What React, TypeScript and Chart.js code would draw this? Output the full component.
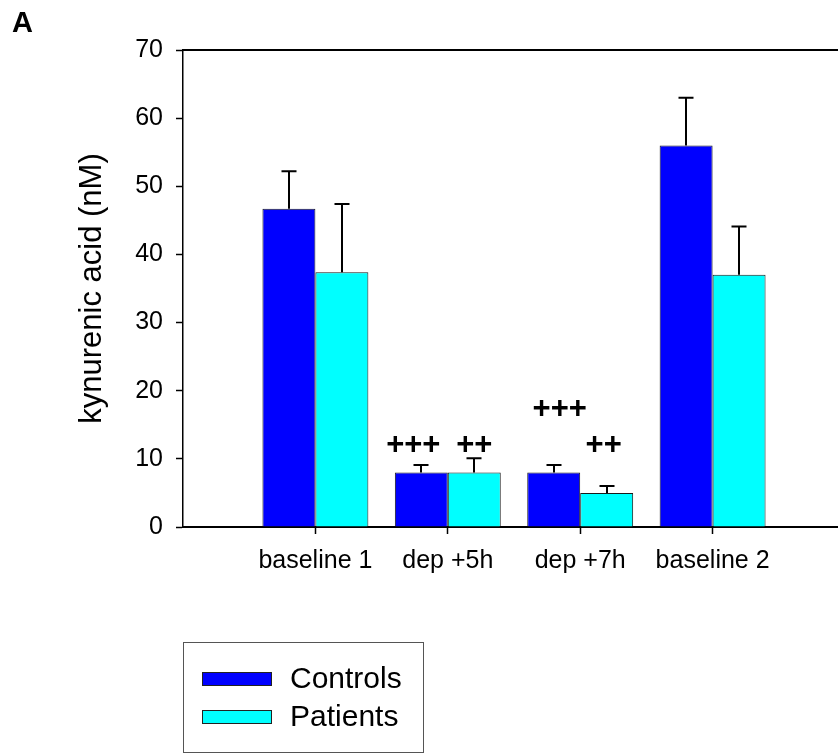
import React, { useEffect, useRef } from "react";
import { Chart, registerables } from "chart.js";

Chart.register(...registerables);

// Kynurenic acid concentrations (nM), mean and SEM per condition
const categories = ["baseline 1", "dep +5h", "dep +7h", "baseline 2"];
const controlsMean = [46.7, 8.0, 8.0, 56.0];
const controlsSem = [5.5, 1.1, 1.1, 7.0];
const patientsMean = [37.4, 8.0, 5.0, 37.0];
const patientsSem = [10.0, 2.1, 1.0, 7.1];
const seriesNames = ["Controls", "Patients"];
const seriesColors = ["#0000FF", "#00FFFF"];
const yMin = 0;
const yMax = 70;
const yStep = 10;
const yTitle = "kynurenic acid (nM)";
const panelLabel = "A";

// Significance markers: which bar they belong to and the value height they sit at
const markers = [
  { text: "+++", series: 0, category: 1, y: 11.9, dx: -8 },
  { text: "++", series: 1, category: 1, y: 11.9, dx: 0 },
  { text: "+++", series: 0, category: 2, y: 17.2, dx: 6 },
  { text: "++", series: 1, category: 2, y: 11.9, dx: -3 },
];

const FONT = '"Liberation Sans", Arial, Helvetica, sans-serif';

// The axis spans one empty slot on each side of the four conditions
const pad = <T,>(arr: T[]): (T | null)[] => [null, ...arr, null];
const axisLabels = ["", ...categories, ""];
const semBySeries = [pad(controlsSem), pad(patientsSem)];

const decorPlugin = {
  id: "decor",
  afterDatasetsDraw(chart: any) {
    const { ctx, chartArea, scales } = chart;
    const y = scales.y;
    // frame top line
    ctx.save();
    ctx.strokeStyle = "#000";
    ctx.lineWidth = 2;
    ctx.beginPath();
    ctx.moveTo(chartArea.left, chartArea.top);
    ctx.lineTo(chartArea.right, chartArea.top);
    ctx.stroke();

    // upward error bars
    chart.data.datasets.forEach((ds: any, di: number) => {
      const meta = chart.getDatasetMeta(di);
      meta.data.forEach((el: any, i: number) => {
        const v = ds.data[i];
        const e = semBySeries[di][i];
        if (v == null || e == null) return;
        const yTop = y.getPixelForValue(v + e);
        const x = Math.round(el.x);
        ctx.strokeStyle = "#000";
        ctx.lineWidth = 2;
        ctx.beginPath();
        ctx.moveTo(x, el.y);
        ctx.lineTo(x, yTop);
        ctx.moveTo(x - 7.5, yTop);
        ctx.lineTo(x + 7.5, yTop);
        ctx.stroke();
      });
    });

    // significance markers
    ctx.fillStyle = "#000";
    ctx.font = `bold 31px ${FONT}`;
    ctx.textAlign = "center";
    ctx.textBaseline = "middle";
    markers.forEach((m) => {
      const el = chart.getDatasetMeta(m.series).data[m.category + 1];
      if (!el) return;
      ctx.fillText(m.text, el.x + m.dx, y.getPixelForValue(m.y));
    });
    ctx.restore();
  },
  afterDraw(chart: any) {
    const { ctx, chartArea } = chart;
    ctx.save();
    // panel label
    ctx.fillStyle = "#000";
    ctx.font = `bold 29px ${FONT}`;
    ctx.textAlign = "left";
    ctx.textBaseline = "alphabetic";
    ctx.fillText(panelLabel, 12, 32);

    // legend box
    const left = chartArea.left;
    const top = 642;
    ctx.strokeStyle = "#555";
    ctx.lineWidth = 1;
    ctx.strokeRect(left + 0.5, top + 0.5, 240, 110);
    chart.data.datasets.forEach((ds: any, i: number) => {
      const cy = 679 + i * 38;
      ctx.fillStyle = ds.backgroundColor;
      ctx.fillRect(left + 19, cy - 7, 70, 14);
      ctx.strokeStyle = "#222";
      ctx.strokeRect(left + 19.5, cy - 6.5, 69, 13);
      ctx.fillStyle = "#000";
      ctx.font = `30px ${FONT}`;
      ctx.textAlign = "left";
      ctx.textBaseline = "middle";
      ctx.fillText(ds.label, left + 107, cy + 1);
    });
    ctx.restore();
  },
};

export default function App() {
  const canvasRef = useRef<HTMLCanvasElement | null>(null);

  useEffect(() => {
    const canvas = canvasRef.current;
    if (!canvas) return;
    const chart = new Chart(canvas, {
      type: "bar",
      data: {
        labels: axisLabels,
        datasets: [
          {
            label: seriesNames[0],
            data: pad(controlsMean),
            backgroundColor: seriesColors[0],
            borderColor: "#1a1a1a",
            borderWidth: 1,
          },
          {
            label: seriesNames[1],
            data: pad(patientsMean),
            backgroundColor: seriesColors[1],
            borderColor: "#1a1a1a",
            borderWidth: 1,
          },
        ],
      },
      options: {
        responsive: false,
        animation: false,
        devicePixelRatio: 1,
        layout: { padding: { top: 50, right: 0, bottom: 0, left: 0 } },
        datasets: {
          bar: { categoryPercentage: 0.8, barPercentage: 1.0 },
        },
        plugins: {
          legend: { display: false },
          tooltip: { enabled: false },
        },
        scales: {
          x: {
            offset: false,
            afterFit: (scale: any) => {
              scale.height = 226;
              scale.paddingLeft = 0;
              scale.paddingRight = 0;
            },
            grid: {
              offset: false,
              drawOnChartArea: false,
              drawTicks: true,
              tickLength: 7,
              tickWidth: 1.5,
              tickColor: (c: any) =>
                c.index === 0 || c.index === axisLabels.length - 1 ? "rgba(0,0,0,0)" : "#000",
            },
            border: { color: "#000", width: 2 },
            ticks: {
              color: "#000",
              font: { family: FONT, size: 25 },
              padding: 12,
              maxRotation: 0,
              autoSkip: false,
            },
          },
          y: {
            min: yMin,
            max: yMax,
            afterFit: (scale: any) => {
              scale.width = 183;
            },
            grid: {
              drawOnChartArea: false,
              drawTicks: true,
              tickLength: 7,
              tickWidth: 1.5,
              tickColor: "#000",
            },
            border: { color: "#000", width: 1.5 },
            ticks: {
              stepSize: yStep,
              color: "#000",
              font: { family: FONT, size: 25 },
              padding: 13,
            },
            title: {
              display: true,
              text: yTitle,
              color: "#000",
              font: { family: FONT, size: 31 },
              padding: { top: 74, bottom: 0 },
            },
          },
        },
      },
      plugins: [decorPlugin],
    });
    return () => chart.destroy();
  }, []);

  return (
    <div
      style={{
        position: "fixed",
        left: 0,
        top: 0,
        width: 838,
        height: 753,
        overflow: "hidden",
        background: "#fff",
      }}
    >
      <canvas ref={canvasRef} width={845} height={753} style={{ display: "block" }} />
    </div>
  );
}
